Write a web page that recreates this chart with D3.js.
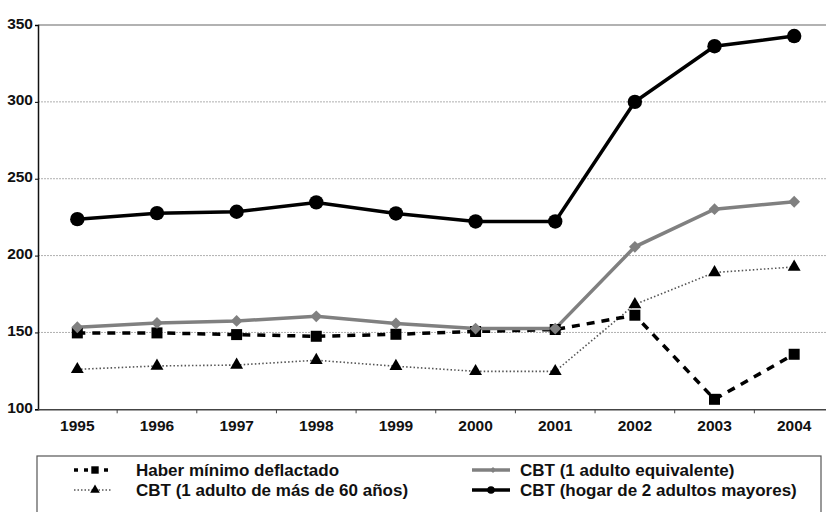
<!DOCTYPE html>
<html>
<head>
<meta charset="utf-8">
<script src="https://cdn.jsdelivr.net/npm/d3@7"></script>
<style>
  body { margin: 0; background: #fff; }
  svg text { font-family: "Liberation Sans", Arial, sans-serif; font-weight: bold; }
</style>
</head>
<body>
<div id="chart"></div>
<script>
const years = ['1995', '1996', '1997', '1998', '1999', '2000', '2001', '2002', '2003', '2004'];
const yTicks = [100, 150, 200, 250, 300, 350];

const haberMinimo = [149.7, 149.7, 148.6, 147.5, 148.8, 150.6, 151.9, 161.2, 106.5, 135.8];
const cbtMas60 = [126.0, 128.2, 128.8, 131.9, 128.0, 124.7, 124.7, 168.2, 189.0, 192.6];
const cbtEquivalente = [153.4, 156.2, 157.5, 160.5, 155.8, 152.5, 152.5, 205.7, 230.2, 235.0];
const cbtHogar = [223.7, 227.6, 228.5, 234.6, 227.4, 222.2, 222.2, 300.0, 336.2, 342.8];

const seriesNames = [
    'Haber mínimo deflactado',
    'CBT (1 adulto de más de 60 años)',
    'CBT (1 adulto equivalente)',
    'CBT (hogar de 2 adultos mayores)'
];

const width = 826, height = 512;
const svg = d3.select('#chart').append('svg')
    .attr('width', width)
    .attr('height', height);

const x = d3.scaleBand().domain(years).range([37.5, 834]);
const y = d3.scaleLinear().domain([100, 350]).range([409.3, 25]);
const cx = d => x(d) + x.bandwidth() / 2;

// grid lines
svg.append('g')
    .selectAll('line')
    .data(yTicks.filter(t => t > 100 && t < 350))
    .join('line')
    .attr('x1', 38).attr('x2', width)
    .attr('y1', d => y(d)).attr('y2', d => y(d))
    .attr('stroke', '#b0b0b0')
    .attr('stroke-width', 1)
    .attr('stroke-dasharray', '2,1');

svg.append('line')
    .attr('x1', 38).attr('x2', width)
    .attr('y1', y(350)).attr('y2', y(350))
    .attr('stroke', '#999')
    .attr('stroke-width', 1.5);

// axes
const yAxis = svg.append('g')
    .attr('transform', 'translate(38,0)')
    .call(d3.axisLeft(y).tickValues(yTicks).tickSize(3).tickPadding(2));
yAxis.select('.domain').attr('stroke', '#111').attr('stroke-width', 1.5);
yAxis.selectAll('text').style('font-size', '15.5px').attr('fill', '#111').attr('dy', '0.2em');

const xAxis = svg.append('g')
    .attr('transform', `translate(0,${y(100)})`)
    .call(d3.axisBottom(x).tickSize(0).tickPadding(11));
xAxis.select('.domain').attr('stroke', '#444').attr('stroke-width', 1.5);
xAxis.selectAll('text').style('font-size', '15.5px').attr('fill', '#111');
xAxis.selectAll('.sep')
    .data(years.slice(1))
    .join('line')
    .attr('class', 'sep')
    .attr('x1', d => x(d)).attr('x2', d => x(d))
    .attr('y1', 0).attr('y2', 4)
    .attr('stroke', '#444');

const line = d3.line().x((d, i) => cx(years[i])).y(d => y(d));

// CBT 60
svg.append('path').datum(cbtMas60)
    .attr('d', line).attr('fill', 'none')
    .attr('stroke', '#555').attr('stroke-width', 1.6)
    .attr('stroke-dasharray', '1.5,2.2');

// Haber minimo
svg.append('path').datum(haberMinimo)
    .attr('d', line).attr('fill', 'none')
    .attr('stroke', '#000').attr('stroke-width', 3.5)
    .attr('stroke-dasharray', '8,7');

// CBT equivalente
svg.append('path').datum(cbtEquivalente)
    .attr('d', line).attr('fill', 'none')
    .attr('stroke', '#808080').attr('stroke-width', 3.5);

// CBT hogar
svg.append('path').datum(cbtHogar)
    .attr('d', line).attr('fill', 'none')
    .attr('stroke', '#000').attr('stroke-width', 3.5);

const sq = d3.symbol().type(d3.symbolSquare).size(121);
const tri = d3.symbol().type(d3.symbolTriangle).size(72);
const dia = d3.symbol().type(d3.symbolSquare).size(70);

svg.append('g').selectAll('path').data(haberMinimo).join('path')
    .attr('d', sq).attr('fill', '#000')
    .attr('transform', (d, i) => `translate(${cx(years[i])},${y(d)})`);

svg.append('g').selectAll('path').data(cbtMas60).join('path')
    .attr('d', tri).attr('fill', '#000')
    .attr('transform', (d, i) => `translate(${cx(years[i])},${y(d)})`);

svg.append('g').selectAll('path').data(cbtEquivalente).join('path')
    .attr('d', dia).attr('fill', '#808080')
    .attr('transform', (d, i) => `translate(${cx(years[i])},${y(d)}) rotate(45)`);

svg.append('g').selectAll('circle').data(cbtHogar).join('circle')
    .attr('r', 7.2).attr('fill', '#000')
    .attr('cx', (d, i) => cx(years[i])).attr('cy', d => y(d));

// legend
svg.append('rect')
    .attr('x', 37).attr('y', 456)
    .attr('width', 784).attr('height', 70)
    .attr('fill', '#fff').attr('stroke', '#555').attr('stroke-width', 1.2);

const legendItems = [
    { name: seriesNames[0], col: 0, row: 0, color: '#000', w: 3.5, dash: '4,6', sym: d3.symbolSquare, symSize: 55, rot: 0 },
    { name: seriesNames[1], col: 0, row: 1, color: '#555', w: 1.4, dash: '1.5,2', sym: d3.symbolTriangle, symSize: 40, rot: 0 },
    { name: seriesNames[2], col: 1, row: 0, color: '#808080', w: 3.5, dash: null, sym: d3.symbolSquare, symSize: 18, rot: 45 },
    { name: seriesNames[3], col: 1, row: 1, color: '#000', w: 3.5, dash: null, sym: null }
];
const colX = [[74, 112, 136], [472, 510, 520]];
const rowY = [470, 490];

const lg = svg.append('g').selectAll('g').data(legendItems).join('g')
    .attr('transform', d => `translate(0,${rowY[d.row]})`);
lg.append('line')
    .attr('x1', d => colX[d.col][0]).attr('x2', d => colX[d.col][1])
    .attr('stroke', d => d.color).attr('stroke-width', d => d.w)
    .attr('stroke-dasharray', d => d.dash);
lg.filter(d => d.sym).append('path')
    .attr('d', d => d3.symbol().type(d.sym).size(d.symSize)())
    .attr('fill', d => d.row === 1 ? '#000' : d.color)
    .attr('transform', d => `translate(${(colX[d.col][0] + colX[d.col][1]) / 2 + 2},0) rotate(${d.rot})`);
lg.filter(d => !d.sym).append('circle')
    .attr('r', 3.8).attr('fill', '#000')
    .attr('cx', d => (colX[d.col][0] + colX[d.col][1]) / 2);
lg.append('text')
    .attr('x', d => colX[d.col][2])
    .attr('dy', '0.35em')
    .style('font-size', '17px')
    .attr('fill', '#111')
    .text(d => d.name);
</script>
</body>
</html>
